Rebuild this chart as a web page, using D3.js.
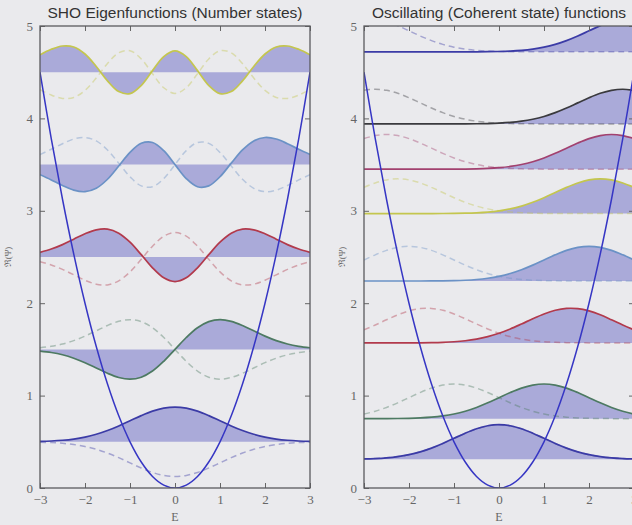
<!DOCTYPE html>
<html><head><meta charset="utf-8">
<script src="https://cdn.jsdelivr.net/npm/d3@7"></script>
<style>body{margin:0;background:#e9e9ec;overflow:hidden}</style>
</head><body>
<script>
// ---------- DATA ----------
const xGrid = [-3,-2.75,-2.5,-2.25,-2,-1.75,-1.5,-1.25,-1,-0.75,-0.5,-0.25,0,0.25,0.5,0.75,1,1.25,1.5,1.75,2,2.25,2.5,2.75,3];
const xTicks = [-3,-2,-1,0,1,2,3];
const yTicks = [0,1,2,3,4,5];
const titles = ["SHO Eigenfunctions (Number states)", "Oscillating (Coherent state) functions"];
const xLabel = "E";
const yLabel = "\u211C(\u03A8)";

// potential V(x) sampled on xGrid
const potential = [4.5,3.78125,3.125,2.53125,2,1.53125,1.125,0.78125,0.5,0.28125,0.125,0.03125,0,0.03125,0.125,0.28125,0.5,0.78125,1.125,1.53125,2,2.53125,3.125,3.78125,4.5];

// Number states: baselines and real-part curves (height above baseline)
const numberOffsets = [0.5,1.5,2.5,3.5,4.5];
const number0 = [0.0042,0.0086,0.0165,0.0299,0.0508,0.0812,0.1220,0.1719,0.2278,0.2835,0.3315,0.3640,0.3756,0.3640,0.3315,0.2835,0.2278,0.1719,0.1220,0.0812,0.0508,0.0299,0.0165,0.0086,0.0042];
const number1 = [-0.0178,-0.0334,-0.0583,-0.0951,-0.1437,-0.2010,-0.2588,-0.3039,-0.3222,-0.3007,-0.2344,-0.1287,0,0.1287,0.2344,0.3007,0.3222,0.3039,0.2588,0.2010,0.1437,0.0951,0.0583,0.0334,0.0178];
const number2 = [0.0505,0.0859,0.1342,0.1929,0.2514,0.2943,0.3019,0.2583,0.1611,0.0251,-0.1172,-0.2252,-0.2656,-0.2252,-0.1172,0.0251,0.1611,0.2583,0.3019,0.2943,0.2514,0.1929,0.1342,0.0859,0.0505];
const number3 = [-0.1091,-0.1656,-0.2262,-0.2767,-0.2933,-0.2564,-0.1585,-0.0155,0.1315,0.2302,0.2392,0.1511,0,-0.1511,-0.2392,-0.2302,-0.1315,0.0155,0.1585,0.2564,0.2933,0.2767,0.2262,0.1656,0.1091];
const number4 = [0.1878,0.2475,0.2838,0.2732,0.1970,0.0624,-0.0934,-0.2100,-0.2325,-0.1438,0.0169,0.1683,0.2300,0.1683,0.0169,-0.1438,-0.2325,-0.2100,-0.0934,0.0624,0.1970,0.2732,0.2838,0.2475,0.1878];
// dashed (half period later)
const number0b = [-0.0042,-0.0086,-0.0165,-0.0299,-0.0508,-0.0812,-0.1220,-0.1719,-0.2278,-0.2835,-0.3315,-0.3640,-0.3756,-0.3640,-0.3315,-0.2835,-0.2278,-0.1719,-0.1220,-0.0812,-0.0508,-0.0299,-0.0165,-0.0086,-0.0042];
const number1b = [0.0178,0.0334,0.0583,0.0951,0.1437,0.2010,0.2588,0.3039,0.3222,0.3007,0.2344,0.1287,0,-0.1287,-0.2344,-0.3007,-0.3222,-0.3039,-0.2588,-0.2010,-0.1437,-0.0951,-0.0583,-0.0334,-0.0178];
const number2b = [-0.0505,-0.0859,-0.1342,-0.1929,-0.2514,-0.2943,-0.3019,-0.2583,-0.1611,-0.0251,0.1172,0.2252,0.2656,0.2252,0.1172,-0.0251,-0.1611,-0.2583,-0.3019,-0.2943,-0.2514,-0.1929,-0.1342,-0.0859,-0.0505];
const number3b = [0.1091,0.1656,0.2262,0.2767,0.2933,0.2564,0.1585,0.0155,-0.1315,-0.2302,-0.2392,-0.1511,0,0.1511,0.2392,0.2302,0.1315,-0.0155,-0.1585,-0.2564,-0.2933,-0.2767,-0.2262,-0.1656,-0.1091];
const number4b = [-0.1878,-0.2475,-0.2838,-0.2732,-0.1970,-0.0624,0.0934,0.2100,0.2325,0.1438,-0.0169,-0.1683,-0.2300,-0.1683,-0.0169,0.1438,0.2325,0.2100,0.0934,-0.0624,-0.1970,-0.2732,-0.2838,-0.2475,-0.1878];

// Coherent states: baselines and curves (height above baseline)
const coherentOffsets = [0.31,0.75,1.57,2.24,2.97,3.45,3.94,4.72];
const coh0 = [0.0042,0.0086,0.0165,0.0299,0.0508,0.0812,0.1220,0.1719,0.2278,0.2835,0.3315,0.3640,0.3756,0.3640,0.3315,0.2835,0.2278,0.1719,0.1220,0.0812,0.0508,0.0299,0.0165,0.0086,0.0042];
const coh1 = [0.0001,0.0003,0.0008,0.0019,0.0042,0.0086,0.0165,0.0299,0.0508,0.0812,0.1220,0.1719,0.2278,0.2835,0.3315,0.3640,0.3756,0.3640,0.3315,0.2835,0.2278,0.1719,0.1220,0.0812,0.0508];
const coh2 = [0,0,0,0,0.0006,0.0014,0.0031,0.0065,0.0128,0.0237,0.0414,0.0678,0.1044,0.1510,0.2051,0.2617,0.3137,0.3533,0.3737,0.3714,0.3467,0.3041,0.2505,0.1939,0.1410];
const coh3 = [0,0,0,0,0.0001,0.0003,0.0008,0.0019,0.0042,0.0086,0.0165,0.0299,0.0508,0.0812,0.1220,0.1719,0.2278,0.2835,0.3315,0.3640,0.3756,0.3640,0.3315,0.2835,0.2278];
const coh4 = [0,0,0,0,0,0.0001,0.0003,0.0008,0.0019,0.0042,0.0086,0.0165,0.0299,0.0508,0.0812,0.1220,0.1719,0.2278,0.2835,0.3315,0.3640,0.3756,0.3640,0.3315,0.2835];
const coh5 = [0,0,0,0,0,0,0.0001,0.0003,0.0008,0.0019,0.0042,0.0086,0.0165,0.0299,0.0508,0.0812,0.1220,0.1719,0.2278,0.2835,0.3315,0.3640,0.3756,0.3640,0.3315];
const coh6 = [0,0,0,0,0,0,0,0.0001,0.0003,0.0008,0.0019,0.0042,0.0086,0.0165,0.0299,0.0508,0.0812,0.1220,0.1719,0.2278,0.2835,0.3315,0.3640,0.3756,0.3640];
const coh7 = [0,0,0,0,0,0,0,0,0.0001,0.0003,0.0008,0.0019,0.0042,0.0086,0.0165,0.0299,0.0508,0.0812,0.1220,0.1719,0.2278,0.2835,0.3315,0.3640,0.3756];
// dashed (half period later, mirrored position)
const coh0b = [0.0042,0.0086,0.0165,0.0299,0.0508,0.0812,0.1220,0.1719,0.2278,0.2835,0.3315,0.3640,0.3756,0.3640,0.3315,0.2835,0.2278,0.1719,0.1220,0.0812,0.0508,0.0299,0.0165,0.0086,0.0042];
const coh1b = [0.0508,0.0812,0.1220,0.1719,0.2278,0.2835,0.3315,0.3640,0.3756,0.3640,0.3315,0.2835,0.2278,0.1719,0.1220,0.0812,0.0508,0.0299,0.0165,0.0086,0.0042,0.0019,0.0008,0.0003,0.0001];
const coh2b = [0.1410,0.1939,0.2505,0.3041,0.3467,0.3714,0.3737,0.3533,0.3137,0.2617,0.2051,0.1510,0.1044,0.0678,0.0414,0.0237,0.0128,0.0065,0.0031,0.0014,0.0006,0,0,0,0];
const coh3b = [0.2278,0.2835,0.3315,0.3640,0.3756,0.3640,0.3315,0.2835,0.2278,0.1719,0.1220,0.0812,0.0508,0.0299,0.0165,0.0086,0.0042,0.0019,0.0008,0.0003,0.0001,0,0,0,0];
const coh4b = [0.2835,0.3315,0.3640,0.3756,0.3640,0.3315,0.2835,0.2278,0.1719,0.1220,0.0812,0.0508,0.0299,0.0165,0.0086,0.0042,0.0019,0.0008,0.0003,0.0001,0,0,0,0,0];
const coh5b = [0.3315,0.3640,0.3756,0.3640,0.3315,0.2835,0.2278,0.1719,0.1220,0.0812,0.0508,0.0299,0.0165,0.0086,0.0042,0.0019,0.0008,0.0003,0.0001,0,0,0,0,0,0];
const coh6b = [0.3640,0.3756,0.3640,0.3315,0.2835,0.2278,0.1719,0.1220,0.0812,0.0508,0.0299,0.0165,0.0086,0.0042,0.0019,0.0008,0.0003,0.0001,0,0,0,0,0,0,0];
const coh7b = [0.3756,0.3640,0.3315,0.2835,0.2278,0.1719,0.1220,0.0812,0.0508,0.0299,0.0165,0.0086,0.0042,0.0019,0.0008,0.0003,0.0001,0,0,0,0,0,0,0,0];

// ---------- STYLE ----------
const numberColors = ["#3b3ba6","#4d7a62","#b23a4c","#6b92c6","#c4c64e"];
const coherentColors = ["#3b3ba6","#4d7a62","#b23a4c","#6b92c6","#c4c64e","#a2416f","#3a3a3e","#3b3ba6"];
const fillColor = "#aaaad9";

const W = 632, H = 525;
const svg = d3.select("body").append("svg").attr("width", W).attr("height", H)
  .style("font-family", "'Liberation Serif', serif");
svg.append("rect").attr("width", W).attr("height", H).attr("fill", "#eaeaed");

const y = d3.scaleLinear().domain([0,5]).range([488,26]);
const fmt = d3.format("d");

const panels = [
  {x: d3.scaleLinear().domain([-3,3]).range([40,310]), title: titles[0],
   offsets: numberOffsets, solid: [number0,number1,number2,number3,number4],
   dashed: [number0b,number1b,number2b,number3b,number4b], colors: numberColors, ylabX: 11},
  {x: d3.scaleLinear().domain([-3,3]).range([364,634]), title: titles[1],
   offsets: coherentOffsets, solid: [coh0,coh1,coh2,coh3,coh4,coh5,coh6,coh7],
   dashed: [coh0b,coh1b,coh2b,coh3b,coh4b,coh5b,coh6b,coh7b], colors: coherentColors, ylabX: 345}
];

panels.forEach((p, pi) => {
  const x = p.x;
  const [x0, x1] = x.range();
  const g = svg.append("g");
  const clipId = "clip" + pi;
  g.append("clipPath").attr("id", clipId).append("rect")
    .attr("x", x0).attr("y", y(5)).attr("width", x1 - x0).attr("height", y(0) - y(5));
  const plot = g.append("g").attr("clip-path", `url(#${clipId})`);

  const curve = d3.curveCatmullRom.alpha(0.5);
  // fills
  p.solid.forEach((arr, i) => {
    const off = p.offsets[i];
    const area = d3.area().x((d, j) => x(xGrid[j])).y0(y(off)).y1(d => y(off + d)).curve(curve);
    plot.append("path").attr("d", area(arr)).attr("fill", fillColor);
  });
  // dashed
  p.dashed.forEach((arr, i) => {
    const off = p.offsets[i];
    const line = d3.line().x((d, j) => x(xGrid[j])).y(d => y(off + d)).curve(curve);
    plot.append("path").attr("d", line(arr)).attr("fill", "none")
      .attr("stroke", p.colors[i]).attr("stroke-opacity", 0.4)
      .attr("stroke-width", 1.5).attr("stroke-dasharray", "6,4");
  });
  // solid
  p.solid.forEach((arr, i) => {
    const off = p.offsets[i];
    const line = d3.line().x((d, j) => x(xGrid[j])).y(d => y(off + d)).curve(curve);
    plot.append("path").attr("d", line(arr)).attr("fill", "none")
      .attr("stroke", p.colors[i]).attr("stroke-width", 1.7);
  });
  // potential
  const pl = d3.line().x((d, j) => x(xGrid[j])).y(d => y(d)).curve(curve);
  plot.append("path").attr("d", pl(potential)).attr("fill", "none")
    .attr("stroke", "#3636c4").attr("stroke-width", 1.5);

  // axes
  const axB = g.append("g").attr("transform", `translate(0,${y(0)})`)
    .call(d3.axisBottom(x).tickValues(xTicks).tickFormat(fmt).tickSizeInner(-5).tickSizeOuter(0).tickPadding(7));
  const axT = g.append("g").attr("transform", `translate(0,${y(5)})`)
    .call(d3.axisTop(x).tickValues(xTicks).tickSizeInner(-5).tickSizeOuter(0).tickFormat(""));
  const axL = g.append("g").attr("transform", `translate(${x0},0)`)
    .call(d3.axisLeft(y).tickValues(yTicks).tickFormat(fmt).tickSizeInner(-5).tickSizeOuter(0).tickPadding(7));
  const axR = g.append("g").attr("transform", `translate(${x1},0)`)
    .call(d3.axisRight(y).tickValues(yTicks).tickSizeInner(-5).tickSizeOuter(0).tickFormat(""));
  [axB, axT, axL, axR].forEach(a => {
    a.select(".domain").remove();
    a.selectAll("line").attr("stroke", "#666").attr("stroke-width", 1);
    a.selectAll("text").attr("fill", "#666").style("font-size", "13px")
      .style("font-family", "'Liberation Serif', serif");
  });
  g.append("rect").attr("x", x0).attr("y", y(5)).attr("width", x1 - x0).attr("height", y(0) - y(5))
    .attr("fill", "none").attr("stroke", "#5a5a5e").attr("stroke-width", 1.3);

  // title
  g.append("text").attr("x", (x0 + x1) / 2).attr("y", 18).attr("text-anchor", "middle")
    .style("font-family", "'Liberation Sans', Arial, sans-serif").style("font-size", "15.5px")
    .attr("fill", "#333").text(p.title);
  // x label
  g.append("text").attr("x", (x0 + x1) / 2).attr("y", 521).attr("text-anchor", "middle")
    .style("font-size", "12px").attr("fill", "#666").text(xLabel);
  // y label
  g.append("text").attr("transform", `translate(${p.ylabX},${y(2.5)}) rotate(-90)`)
    .attr("text-anchor", "middle").style("font-size", "9px").attr("fill", "#666").text(yLabel);
});
</script>
</body></html>
